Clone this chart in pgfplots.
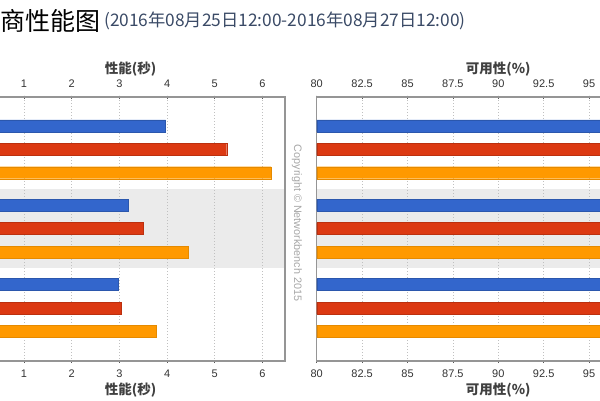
\documentclass[border=0pt]{standalone}
\usepackage{fontspec}
\setmainfont{Liberation Sans}
\newfontfamily\cjk{Noto Sans CJK SC}
\usepackage{pgfplots}
\pgfplotsset{compat=1.18}
\definecolor{gblue}{HTML}{3366CC}
\definecolor{gred}{HTML}{DC3912}
\definecolor{gorange}{HTML}{FF9900}
\definecolor{bandc}{HTML}{EBEBEB}
\definecolor{gridc}{HTML}{C0C0C0}
\definecolor{framec}{HTML}{959595}
\definecolor{subt}{HTML}{3A4A66}
\definecolor{labc}{HTML}{404040}

\pgfplotsset{
  base/.style={
    y=79.35pt, ymin=0.341, ymax=3.668, y dir=reverse,
    ytick=\empty, anchor=north west,
    axis line style={framec, line width=1.2pt},
    tick style={black!65, line width=0.7pt},
    major tick length=3pt, tick align=center,
    ticklabel style={font=\fontsize{11}{13}\selectfont, text=black!80},
    /pgf/number format/assume math mode=true,
    scale only axis=false,
  },
  lefta/.style={base, x=47.7pt, xmin=0, xmax=6.47, xtick={1,2,3,4,5,6}},
  righta/.style={base, x=18.16pt, xmin=80, xmax=100,
    xtick={80,82.5,85,87.5,90,92.5,95}},
  topl/.style={xticklabel pos=upper, xticklabel style={yshift=4pt}},
  botl/.style={xticklabel pos=lower, xticklabel style={yshift=-4pt},
    xmajorgrids, grid style={gridc, line width=0.7pt, dash pattern=on 1pt off 2pt},
    xbar, bar width=12pt, bar shift=0pt},
}

\begin{document}
\begin{tikzpicture}[x=1pt,y=1pt]
\path[use as bounding box] (0,0) rectangle (600,-400);
\clip (0,0) rectangle (600,-400);

% title
\node[anchor=west, inner sep=0pt] at (0,-20.5) {\cjk\fontsize{25}{28}\selectfont 商性能图};
\node[anchor=west, inner sep=0pt, text=subt] at (104,-20.5) {\cjk\fontsize{17.3}{20}\selectfont (2016年08月25日12:00-2016年08月27日12:00)};

% ---------- left panel: performance (s) ----------
\begin{axis}[lefta, topl, at={(-23.7pt,-97pt)}]
\fill[bandc] (0,1.5) rectangle (6.47,2.5);
\end{axis}
\begin{axis}[lefta, botl, at={(-23.7pt,-97pt)}]
\addplot[fill=gblue, draw=gblue!85!black] coordinates {(3.97,0.705) (3.19,1.705) (2.97,2.705)};
\addplot[fill=gred, draw=gred!85!black] coordinates {(5.25,1) (3.49,2) (3.03,3)};
\addplot[fill=gorange, draw=gorange!90!black] coordinates {(6.18,1.295) (4.44,2.295) (3.77,3.295)};
\end{axis}

% ---------- right panel: availability (%) ----------
\begin{axis}[righta, topl, at={(316.7pt,-97pt)}]
\fill[bandc] (80,1.5) rectangle (100,2.5);
\end{axis}
\begin{axis}[righta, botl, at={(316.7pt,-97pt)}]
\addplot[fill=gblue, draw=gblue!85!black] coordinates {(99.9,0.705) (99.8,1.705) (99.9,2.705)};
\addplot[fill=gred, draw=gred!85!black] coordinates {(99.8,1) (99.7,2) (99.8,3)};
\addplot[fill=gorange, draw=gorange!90!black] coordinates {(99.9,1.295) (99.8,2.295) (99.9,3.295)};
\end{axis}

% axis titles
\node[text=labc] at (130.6,-69.5) {\cjk\bfseries\fontsize{13.5}{16}\selectfont 性能(秒)};
\node[text=labc] at (130.6,-390) {\cjk\bfseries\fontsize{13.5}{16}\selectfont 性能(秒)};
\node[text=labc] at (498.3,-69.5) {\cjk\bfseries\fontsize{13.5}{16}\selectfont 可用性(\%)};
\node[text=labc] at (498.3,-390) {\cjk\bfseries\fontsize{13.5}{16}\selectfont 可用性(\%)};

% watermark
\node[rotate=-90, text=black!35] at (297,-223) {\fontsize{10.8}{12}\selectfont Copyright \textcopyright{} Networkbench 2015};
\end{tikzpicture}
\end{document}
